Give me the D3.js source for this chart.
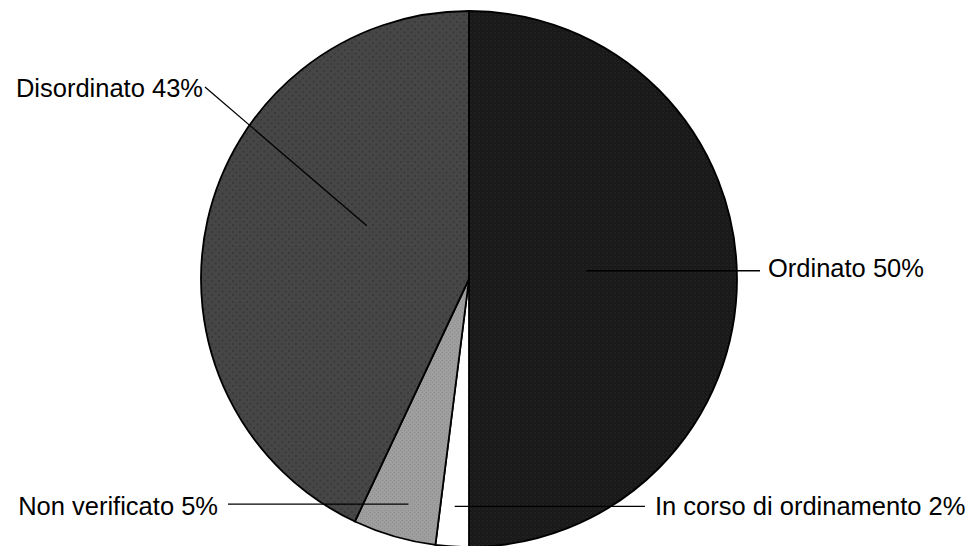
<!DOCTYPE html>
<html>
<head>
<meta charset="utf-8">
<script src="https://cdn.jsdelivr.net/npm/d3@7"></script>
<style>
  html, body { margin: 0; padding: 0; background: #fff; }
  svg { display: block; }
  text { font-family: "Liberation Sans", Arial, Helvetica, sans-serif; }
</style>
</head>
<body>
<svg id="chart" width="966" height="546"></svg>
<script>
// Stato dell'archivio: quote percentuali
const categories = ["Ordinato", "In corso di ordinamento", "Non verificato", "Disordinato"];
const values = [50, 2, 5, 43];
const labels = ["Ordinato 50%", "In corso di ordinamento 2%", "Non verificato 5%", "Disordinato 43%"];

const W = 966, H = 546;
const cx = 469, cy = 279, R = 268;

const svg = d3.select("#chart");
const defs = svg.append("defs");

// Textured fills for the slices
function dotPattern(id, bg, dot, size, dotR) {
  const p = defs.append("pattern")
    .attr("id", id).attr("patternUnits", "userSpaceOnUse")
    .attr("width", size).attr("height", size);
  p.append("rect").attr("width", size).attr("height", size).attr("fill", bg);
  p.append("rect").attr("x", 1).attr("y", 1).attr("width", dotR).attr("height", dotR).attr("fill", dot);
  p.append("rect").attr("x", 1 + size / 2).attr("y", 1 + size / 2).attr("width", dotR).attr("height", dotR).attr("fill", dot);
  return `url(#${id})`;
}
const fills = [
  dotPattern("pOrd", "#191919", "#202020", 4, 2),
  "#ffffff",
  dotPattern("pNon", "#9e9e9e", "#8e8e8e", 4, 1),
  dotPattern("pDis", "#464646", "#3a3a3a", 7, 2)
];

const color = d3.scaleOrdinal().domain(categories).range(fills);

const pie = d3.pie().sort(null).value(d => d.value);
const data = categories.map((c, i) => ({ name: c, value: values[i], label: labels[i] }));
const arcs = pie(data);

const arc = d3.arc().innerRadius(0).outerRadius(R);

const g = svg.append("g").attr("transform", `translate(${cx},${cy})`);

g.selectAll("path.slice")
  .data(arcs)
  .join("path")
  .attr("class", "slice")
  .attr("d", arc)
  .attr("fill", d => color(d.data.name))
  .attr("stroke", "#000")
  .attr("stroke-width", 1.8)
  .attr("stroke-linejoin", "miter");

// Leader lines and labels
// anchor: radius fraction and angular nudge (radians) of the inner end;
// end: where the line meets the label; text: label position and anchor
const leaderLayout = [
  { rf: 0.44, nudge: -0.07, end: [760, null], text: [768, 277], anchor: "start" },
  { rf: 0.85, nudge: 0.0,   end: [645, null], text: [655, 515], anchor: "start" },
  { rf: 0.87, nudge: -0.02, end: [228, null], text: [218, 515], anchor: "end" },
  { rf: 0.43, nudge: 0.26,  end: [205, 87],   text: [203, 97],  anchor: "end" }
];

const lg = svg.append("g");
arcs.forEach((a, i) => {
  const L = leaderLayout[i];
  const ang = (a.startAngle + a.endAngle) / 2 + L.nudge;
  const x1 = cx + Math.sin(ang) * R * L.rf;
  const y1 = cy - Math.cos(ang) * R * L.rf;
  const x2 = L.end[0];
  const y2 = L.end[1] === null ? y1 : L.end[1];
  lg.append("line")
    .attr("x1", x1).attr("y1", y1).attr("x2", x2).attr("y2", y2)
    .attr("stroke", "#000").attr("stroke-width", 1.3);
  lg.append("text")
    .attr("x", L.text[0]).attr("y", L.text[1])
    .attr("text-anchor", L.anchor)
    .attr("font-size", 25.5)
    .attr("fill", "#000")
    .text(a.data.label);
});
</script>
</body>
</html>
